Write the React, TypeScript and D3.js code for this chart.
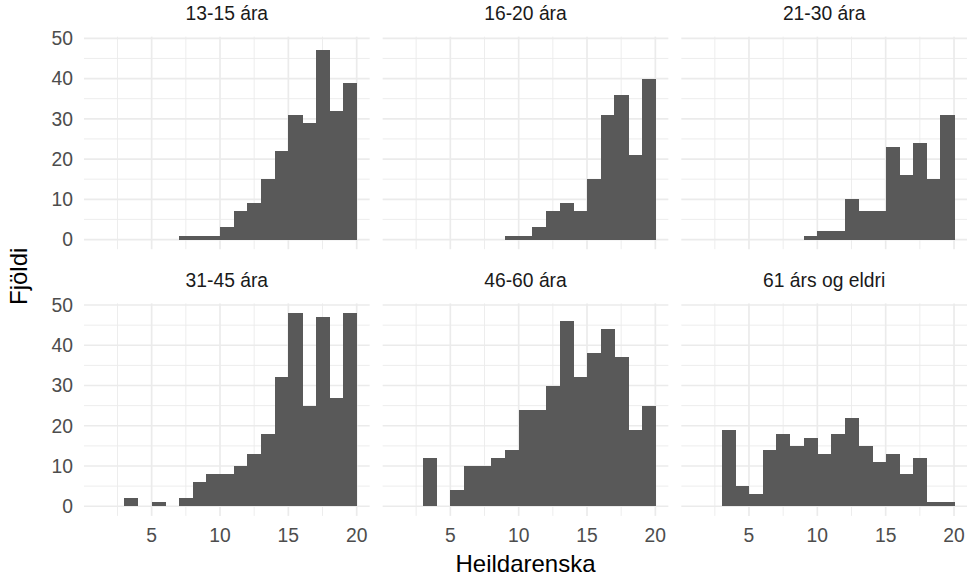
import React from "react";
import * as d3 from "d3";

// bins are 1 wide, starting at these values (Heildarenska)
const binStarts = [1, 2, 3, 4, 5, 6, 7, 8, 9, 10, 11, 12, 13, 14, 15, 16, 17, 18, 19];

const panelNames = ["13-15 ára", "16-20 ára", "21-30 ára", "31-45 ára", "46-60 ára", "61 árs og eldri"];

const counts1315 = [0, 0, 0, 0, 0, 0, 1, 1, 1, 3, 7, 9, 15, 22, 31, 29, 47, 32, 39];
const counts1620 = [0, 0, 0, 0, 0, 0, 0, 0, 1, 1, 3, 7, 9, 7, 15, 31, 36, 21, 40];
const counts2130 = [0, 0, 0, 0, 0, 0, 0, 0, 1, 2, 2, 10, 7, 7, 23, 16, 24, 15, 31];
const counts3145 = [0, 0, 2, 0, 1, 0, 2, 6, 8, 8, 10, 13, 18, 32, 48, 25, 47, 27, 48];
const counts4660 = [0, 0, 12, 0, 4, 10, 10, 12, 14, 24, 24, 30, 46, 32, 38, 44, 37, 19, 25];
const counts61 = [0, 0, 19, 5, 3, 14, 18, 15, 17, 13, 18, 22, 15, 11, 13, 8, 12, 1, 1];

const xTicks = [5, 10, 15, 20];
const xMinor = [2.5, 7.5, 12.5, 17.5];
const yTicks = [0, 10, 20, 30, 40, 50];
const yMinor = [5, 15, 25, 35, 45];

const allCounts = [counts1315, counts1620, counts2130, counts3145, counts4660, counts61];

const W = 968;
const H = 583;

const App = () => {
  const left = 84;
  const right = 967;
  const gap = 13;
  const pw = (right - left - 2 * gap) / 3;
  const rowTops = [36.7, 303.4];
  const ph = 212.5;

  const xMin = binStarts[0];
  const xMax = binStarts[binStarts.length - 1] + 1;
  const xPad = (xMax - xMin) * 0.05;
  const yMax = d3.max(allCounts.flat()) as number;
  const yPad = yMax * 0.05;

  const x = d3.scaleLinear().domain([xMin - xPad, xMax + xPad]).range([0, pw]);
  const y = d3.scaleLinear().domain([-yPad, yMax + yPad]).range([ph, 0]);

  const font = "'Liberation Sans', Arial, sans-serif";
  const small = 19.3;
  const big = 24;

  return (
    <svg width={W} height={H} style={{ position: "absolute", left: 0, top: 0, background: "#fff" }} fontFamily={font}>
      {panelNames.map((name, i) => {
        const col = i % 3;
        const row = Math.floor(i / 3);
        const px = left + col * (pw + gap);
        const py = rowTops[row];
        const counts = allCounts[i];
        return (
          <g key={name} transform={`translate(${px},${py})`}>
            {yMinor.map((v) => (
              <line key={"ym" + v} x1={0} x2={pw} y1={y(v)} y2={y(v)} stroke="#EBEBEB" strokeWidth={0.9} />
            ))}
            {xMinor.map((v) => (
              <line key={"xm" + v} x1={x(v)} x2={x(v)} y1={0} y2={ph} stroke="#EBEBEB" strokeWidth={0.9} />
            ))}
            {yTicks.map((v) => (
              <line key={"y" + v} x1={0} x2={pw} y1={y(v)} y2={y(v)} stroke="#EBEBEB" strokeWidth={1.7} />
            ))}
            {xTicks.map((v) => (
              <line key={"x" + v} x1={x(v)} x2={x(v)} y1={0} y2={ph} stroke="#EBEBEB" strokeWidth={1.7} />
            ))}
            <g shapeRendering="crispEdges">
              {binStarts.map((b, j) => (
                <rect
                  key={b}
                  x={x(b)}
                  width={x(b + 1) - x(b) + 0.5}
                  y={y(counts[j])}
                  height={y(0) - y(counts[j])}
                  fill="#595959"
                />
              ))}
            </g>
            <text x={pw / 2} y={-16.7} textAnchor="middle" fontSize={small} fill="#1A1A1A">
              {name}
            </text>
            {row === 1 &&
              xTicks.map((v) => (
                <text key={"xl" + v} x={x(v)} y={ph + 26} textAnchor="middle" fontSize={small} fill="#4D4D4D">
                  {v}
                </text>
              ))}
            {col === 0 &&
              yTicks.map((v) => (
                <text key={"yl" + v} x={-11} y={y(v) + 6.9} textAnchor="end" fontSize={small} fill="#4D4D4D">
                  {v}
                </text>
              ))}
          </g>
        );
      })}
      <text x={(left + right) / 2} y={572} textAnchor="middle" fontSize={big} fill="#000">
        Heildarenska
      </text>
      <text transform={`translate(26.6,${(rowTops[0] + rowTops[1] + ph) / 2}) rotate(-90)`} textAnchor="middle" fontSize={big} fill="#000">
        Fjöldi
      </text>
    </svg>
  );
};

export default App;
